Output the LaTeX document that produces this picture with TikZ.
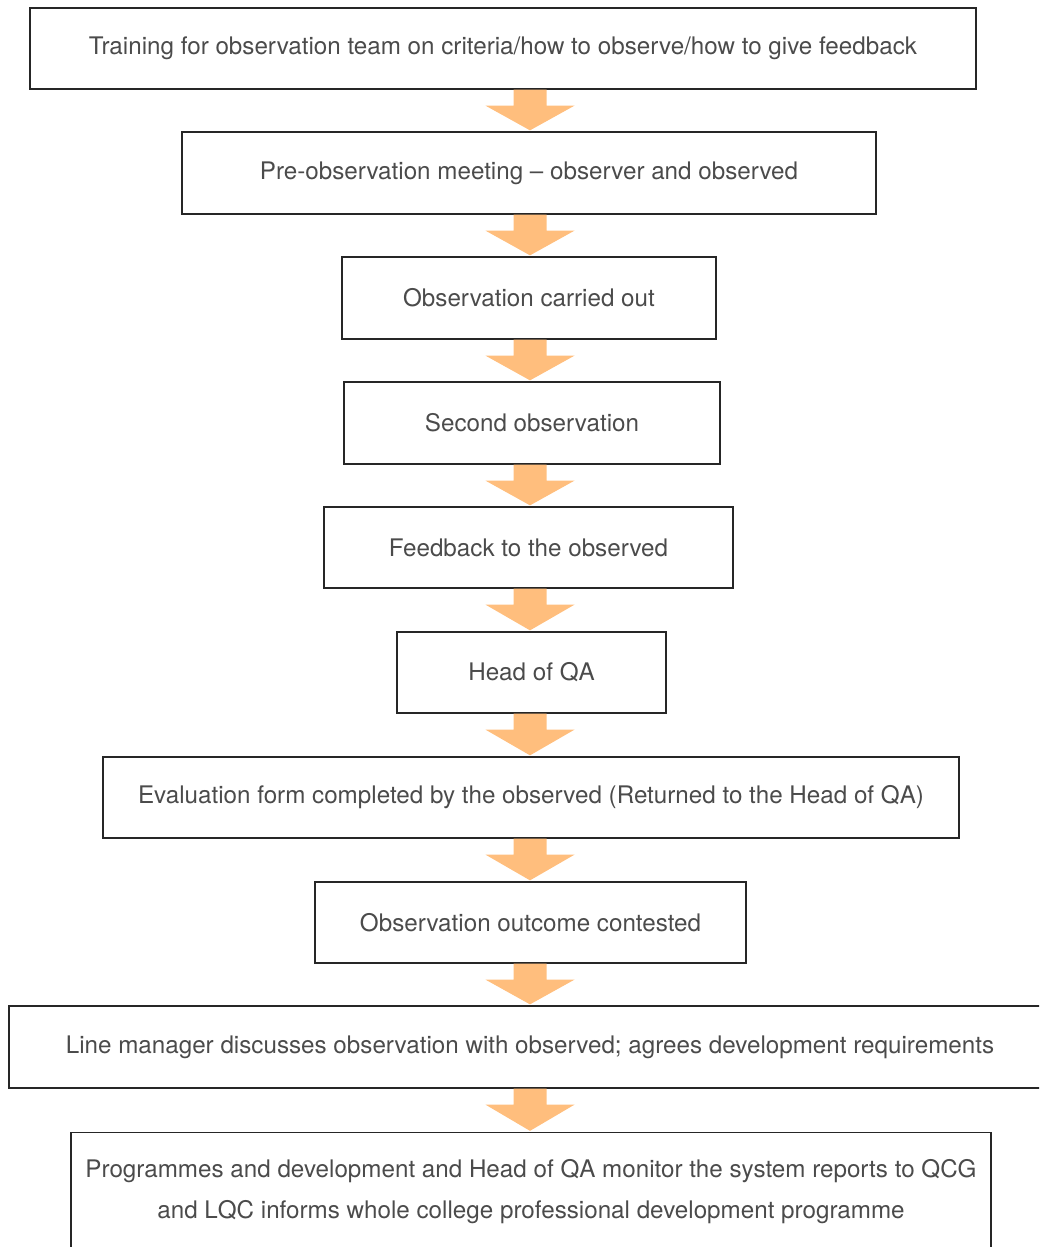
\documentclass[tikz,border=0pt]{standalone}
\usepackage{fontspec}
\setmainfont{TeX Gyre Heros}
\usepackage{tikz}
\usetikzlibrary{calc}

\definecolor{flowarrow}{RGB}{255,190,125}
\definecolor{boxtext}{RGB}{75,75,75}

\tikzset{
  box/.style={draw=black!85, line width=1.3pt, inner sep=0pt, align=center,
    text=boxtext, font=\fontsize{24.2}{41}\selectfont},
  flow/.style={fill=flowarrow}
}

\begin{document}
\begin{tikzpicture}[x=1pt, y=-1pt]
			\useasboundingbox (0,0) rectangle (1039,1247);
			\clip (0,0) rectangle (1039,1247);
			\coordinate (axis) at (530,0);
			
			% steps, top to bottom
			\node[box, minimum width=946pt, minimum height=81pt] (train) at (503,48.5)
				{Training for observation team on criteria/how to observe/how to give feedback};
			\node[box, minimum width=694pt, minimum height=82pt] (pre) at (529,173)
				{Pre-observation meeting -- observer and observed};
			\node[box, minimum width=374pt, minimum height=82pt] (obs) at (529,298)
				{Observation carried out};
			\node[box, minimum width=376pt, minimum height=82pt] (second) at (532,423)
				{Second observation};
			\node[box, minimum width=409pt, minimum height=81pt] (feedback) at (528.5,547.5)
				{Feedback to the observed};
			\node[box, minimum width=269pt, minimum height=81pt] (headqa) at (531.5,672.5)
				{Head of QA};
			\node[box, minimum width=856pt, minimum height=81pt] (evalform) at (531,797.5)
				{Evaluation form completed by the observed (Returned to the Head of QA)};
			\node[box, minimum width=431pt, minimum height=81pt] (contest) at (530.5,922.5)
				{Observation outcome contested};
			\node[box, minimum width=1042pt, minimum height=82pt] (linemgr) at (530,1047)
				{Line manager discusses observation with observed; agrees development requirements};
			\node[box, minimum width=920pt, minimum height=119pt] (monitor) at (531,1192)
				{Programmes and development and Head of QA monitor the system reports to QCG\\
				 and LQC informs whole college professional development programme};
			
			% block arrows between the steps
			\foreach \a/\b in {train/pre, pre/obs, obs/second, second/feedback,
				feedback/headqa, headqa/evalform, evalform/contest, contest/linemgr,
				linemgr/monitor}
			{
				\fill[flow] ($(\a.south -| axis)+(-16.5,0)$) -- ($(\a.south -| axis)+(16.5,0)$)
					-- ($(\a.south -| axis)+(16.5,16)$) -- ($(\a.south -| axis)+(44.5,16)$)
					-- ($(\b.north -| axis)+(0,-1)$)
					-- ($(\a.south -| axis)+(-44.5,16)$) -- ($(\a.south -| axis)+(-16.5,16)$) -- cycle;
			}
		\end{tikzpicture}
\end{document}
